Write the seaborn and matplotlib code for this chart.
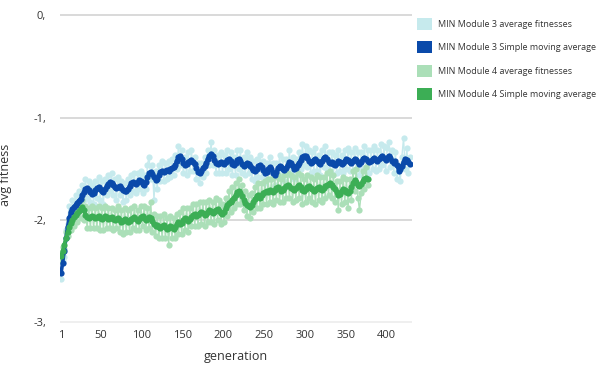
import numpy as np
import pandas as pd
import matplotlib
matplotlib.use("Agg")
import matplotlib.pyplot as plt
import seaborn as sns
from matplotlib.patches import Patch

gen_m3 = list(range(1, 430, 2))
gen_m4 = list(range(1, 378, 2))

# Module 3 - average fitnesses
m3_avg = [
    -2.58, -2.40, -2.36, -2.10, -2.04, -1.86, -1.96, -1.80, -1.92, -1.76,
    -1.90, -1.72, -1.86, -1.66, -1.80, -1.60, -1.78, -1.62, -1.82, -1.66,
    -1.84, -1.62, -1.78, -1.58, -1.80, -1.62, -1.84, -1.60, -1.76, -1.56,
    -1.72, -1.54, -1.76, -1.60, -1.80, -1.58, -1.76, -1.62, -1.82, -1.64,
    -1.80, -1.60, -1.76, -1.56, -1.72, -1.54, -1.74, -1.54, -1.70, -1.52,
    -1.74, -1.56, -1.70, -1.46, -1.38, -1.60, -1.46, -1.80, -1.52, -1.70,
    -1.46, -1.62, -1.42, -1.62, -1.44, -1.60, -1.42, -1.58, -1.40, -1.56,
    -1.36, -1.50, -1.28, -1.46, -1.32, -1.54, -1.38, -1.56, -1.34, -1.52,
    -1.32, -1.52, -1.38, -1.60, -1.44, -1.64, -1.44, -1.58, -1.38, -1.54,
    -1.32, -1.46, -1.24, -1.46, -1.32, -1.54, -1.36, -1.54, -1.34, -1.54,
    -1.36, -1.54, -1.32, -1.50, -1.34, -1.56, -1.38, -1.56, -1.32, -1.50,
    -1.32, -1.54, -1.38, -1.56, -1.34, -1.54, -1.38, -1.60, -1.42, -1.62,
    -1.40, -1.58, -1.36, -1.58, -1.42, -1.64, -1.44, -1.60, -1.38, -1.60,
    -1.44, -1.66, -1.44, -1.58, -1.36, -1.58, -1.40, -1.62, -1.40, -1.56,
    -1.32, -1.54, -1.38, -1.60, -1.40, -1.56, -1.34, -1.50, -1.26, -1.46,
    -1.28, -1.48, -1.32, -1.54, -1.34, -1.52, -1.30, -1.52, -1.36, -1.56,
    -1.32, -1.48, -1.28, -1.50, -1.34, -1.54, -1.34, -1.56, -1.36, -1.54,
    -1.32, -1.52, -1.36, -1.54, -1.32, -1.50, -1.30, -1.52, -1.34, -1.52,
    -1.30, -1.50, -1.34, -1.56, -1.34, -1.50, -1.28, -1.50, -1.32, -1.54,
    -1.32, -1.50, -1.28, -1.52, -1.32, -1.50, -1.26, -1.46, -1.28, -1.52,
    -1.30, -1.24, -1.48, -1.32, -1.54, -1.34, -1.60, -1.46, -1.62, -1.38,
    -1.20, -1.50, -1.30, -1.54, -1.38,
]

# Module 3 - simple moving average
m3_sma = [
    -2.52, -2.42, -2.30, -2.18, -2.07, -1.98, -1.92, -1.89, -1.87, -1.85,
    -1.83, -1.81, -1.79, -1.76, -1.73, -1.70, -1.69, -1.71, -1.73, -1.75,
    -1.74, -1.71, -1.69, -1.68, -1.70, -1.72, -1.73, -1.70, -1.67, -1.65,
    -1.63, -1.64, -1.66, -1.68, -1.69, -1.68, -1.67, -1.69, -1.71, -1.72,
    -1.72, -1.70, -1.67, -1.64, -1.63, -1.64, -1.65, -1.63, -1.61, -1.62,
    -1.65, -1.66, -1.63, -1.58, -1.54, -1.53, -1.55, -1.58, -1.61, -1.60,
    -1.56, -1.53, -1.52, -1.53, -1.52, -1.51, -1.52, -1.50, -1.49, -1.48,
    -1.46, -1.42, -1.38, -1.37, -1.40, -1.44, -1.46, -1.45, -1.43, -1.42,
    -1.41, -1.43, -1.45, -1.49, -1.53, -1.54, -1.52, -1.49, -1.47, -1.44,
    -1.40, -1.37, -1.35, -1.37, -1.41, -1.44, -1.45, -1.44, -1.43, -1.44,
    -1.45, -1.43, -1.41, -1.40, -1.42, -1.45, -1.46, -1.44, -1.41, -1.40,
    -1.42, -1.45, -1.47, -1.46, -1.44, -1.45, -1.47, -1.49, -1.51, -1.52,
    -1.50, -1.47, -1.46, -1.48, -1.51, -1.54, -1.53, -1.50, -1.48, -1.50,
    -1.54, -1.56, -1.53, -1.49, -1.47, -1.48, -1.50, -1.51, -1.49, -1.46,
    -1.43, -1.44, -1.47, -1.50, -1.49, -1.46, -1.44, -1.41, -1.38, -1.37,
    -1.37, -1.39, -1.42, -1.44, -1.43, -1.41, -1.40, -1.42, -1.44, -1.45,
    -1.42, -1.39, -1.38, -1.40, -1.43, -1.44, -1.43, -1.45, -1.46, -1.44,
    -1.42, -1.43, -1.45, -1.44, -1.42, -1.40, -1.41, -1.43, -1.44, -1.42,
    -1.40, -1.41, -1.43, -1.45, -1.43, -1.40, -1.39, -1.40, -1.42, -1.43,
    -1.42, -1.40, -1.39, -1.41, -1.42, -1.40, -1.38, -1.37, -1.39, -1.41,
    -1.39, -1.37, -1.39, -1.42, -1.44, -1.42, -1.46, -1.52, -1.50, -1.47,
    -1.43, -1.40, -1.41, -1.43, -1.45,
]

# Module 4 - average fitnesses
m4_avg = [
    -2.40, -2.26, -2.28, -2.12, -2.16, -2.00, -2.10, -1.92, -2.06, -1.86,
    -2.02, -1.82, -1.98, -1.80, -2.00, -1.86, -2.08, -1.88, -2.08, -1.86,
    -2.08, -1.88, -2.08, -1.86, -2.10, -1.88, -2.10, -1.86, -2.08, -1.88,
    -2.08, -1.88, -2.10, -1.90, -2.08, -1.86, -2.12, -1.90, -2.14, -1.88,
    -2.12, -1.90, -2.12, -1.88, -2.08, -1.86, -2.10, -1.90, -2.10, -1.86,
    -2.06, -1.86, -2.10, -1.88, -2.08, -1.82, -2.12, -1.94, -2.16, -1.96,
    -2.18, -1.96, -2.18, -1.94, -2.18, -1.98, -2.24, -1.96, -2.18, -1.98,
    -2.18, -1.94, -2.14, -1.92, -2.14, -1.88, -2.10, -1.88, -2.12, -1.88,
    -2.06, -1.84, -2.06, -1.84, -2.06, -1.82, -2.04, -1.82, -2.06, -1.82,
    -2.02, -1.80, -2.02, -1.82, -2.04, -1.78, -2.00, -1.80, -2.04, -1.84,
    -2.02, -1.78, -1.96, -1.72, -1.92, -1.68, -1.88, -1.64, -1.84, -1.60,
    -1.84, -1.66, -1.90, -1.72, -1.96, -1.76, -1.98, -1.74, -1.92, -1.68,
    -1.88, -1.64, -1.88, -1.64, -1.84, -1.62, -1.84, -1.60, -1.82, -1.60,
    -1.84, -1.58, -1.80, -1.56, -1.82, -1.60, -1.82, -1.56, -1.78, -1.54,
    -1.78, -1.56, -1.82, -1.58, -1.80, -1.54, -1.78, -1.56, -1.84, -1.60,
    -1.82, -1.56, -1.78, -1.58, -1.82, -1.60, -1.84, -1.56, -1.80, -1.58,
    -1.82, -1.58, -1.78, -1.54, -1.76, -1.52, -1.78, -1.56, -1.82, -1.62,
    -1.90, -1.62, -1.84, -1.58, -1.82, -1.60, -1.88, -1.60, -1.80, -1.52,
    -1.72, -1.50, -1.78, -1.90, -1.74, -1.52, -1.70, -1.48, -1.66,
]

# Module 4 - simple moving average
m4_sma = [
    -2.35, -2.30, -2.24, -2.18, -2.12, -2.07, -2.03, -2.00, -1.97, -1.95,
    -1.93, -1.91, -1.89, -1.87, -1.90, -1.95, -1.97, -1.98, -1.97, -1.96,
    -1.97, -1.98, -1.97, -1.96, -1.98, -1.99, -1.98, -1.96, -1.97, -1.99,
    -1.98, -1.97, -1.99, -2.00, -1.99, -1.98, -2.00, -2.02, -2.01, -1.99,
    -2.00, -2.02, -2.01, -1.99, -1.98, -1.97, -1.99, -2.01, -1.99, -1.97,
    -1.96, -1.98, -2.00, -1.99, -1.97, -1.98, -2.01, -2.04, -2.06, -2.05,
    -2.07, -2.08, -2.06, -2.05, -2.07, -2.09, -2.08, -2.06, -2.07, -2.09,
    -2.07, -2.04, -2.02, -2.04, -2.03, -2.00, -1.98, -1.99, -2.01, -1.99,
    -1.97, -1.95, -1.94, -1.96, -1.95, -1.93, -1.92, -1.93, -1.95, -1.94,
    -1.92, -1.90, -1.91, -1.93, -1.92, -1.90, -1.89, -1.91, -1.93, -1.94,
    -1.92, -1.88, -1.85, -1.83, -1.82, -1.80, -1.78, -1.76, -1.73, -1.72,
    -1.74, -1.77, -1.80, -1.83, -1.85, -1.86, -1.87, -1.85, -1.82, -1.79,
    -1.77, -1.76, -1.78, -1.76, -1.74, -1.73, -1.72, -1.73, -1.71, -1.72,
    -1.73, -1.71, -1.69, -1.68, -1.70, -1.72, -1.71, -1.69, -1.67, -1.66,
    -1.67, -1.69, -1.70, -1.71, -1.69, -1.67, -1.66, -1.68, -1.71, -1.72,
    -1.70, -1.68, -1.67, -1.69, -1.70, -1.72, -1.71, -1.69, -1.68, -1.70,
    -1.71, -1.69, -1.67, -1.66, -1.65, -1.64, -1.66, -1.68, -1.70, -1.73,
    -1.76, -1.75, -1.72, -1.70, -1.71, -1.73, -1.74, -1.72, -1.68, -1.64,
    -1.61, -1.63, -1.66, -1.67, -1.65, -1.62, -1.60, -1.59, -1.60,
]

labels = [
    "MIN Module 3 average fitnesses",
    "MIN Module 3 Simple moving average",
    "MIN Module 4 average fitnesses",
    "MIN Module 4 Simple moving average",
]
colors = ["#c6eaed", "#0a4aaa", "#abdfb8", "#3cae55"]

x_ticks = [1, 50, 100, 150, 200, 250, 300, 350, 400]
y_ticks = [0, -1, -2, -3]
y_tick_labels = ["0,", "-1,", "-2,", "-3,"]

sns.set_style("white")
plt.rcParams["font.family"] = ["Open Sans", "DejaVu Sans"]

fig = plt.figure(figsize=(5.96, 3.70), dpi=100)
ax = fig.add_axes([0.1007, 0.1260, 0.5906, 0.8352])

# light raw series first, smoothed series on top
sns.lineplot(x=gen_m3, y=m3_avg, ax=ax, color=colors[0], marker="o",
             markersize=4.5, markeredgewidth=0, linewidth=1.0, zorder=2)
sns.lineplot(x=gen_m4, y=m4_avg, ax=ax, color=colors[2], marker="o",
             markersize=4.5, markeredgewidth=0, linewidth=1.0, zorder=3)
sns.lineplot(x=gen_m3, y=m3_sma, ax=ax, color=colors[1], marker="o",
             markersize=4.5, markeredgewidth=0, linewidth=2.6, zorder=4)
sns.lineplot(x=gen_m4, y=m4_sma, ax=ax, color=colors[3], marker="o",
             markersize=4.5, markeredgewidth=0, linewidth=2.6, zorder=5)

ax.set_xlim(-0.2, 431.4)
ax.set_ylim(-3.01, 0.01)

# horizontal gridlines
for yv in y_ticks:
    ax.axhline(yv, color="#ebebeb" if yv == -3 else "#cfcfcf",
               linewidth=1.1, zorder=1)

for s in ax.spines.values():
    s.set_visible(False)

ax.set_xticks(x_ticks)
ax.set_xticklabels([str(t) for t in x_ticks])
ax.set_yticks(y_ticks)
ax.set_yticklabels(y_tick_labels)
ax.tick_params(axis="both", length=0, labelsize=8, colors="#333333")
ax.tick_params(axis="y", pad=10)
ax.tick_params(axis="x", pad=5)

ax.set_xlabel("generation", fontsize=9, color="#333333", labelpad=6)
ax.set_ylabel("avg fitness", fontsize=9, color="#333333")
ax.yaxis.set_label_coords(-0.135, 0.48)

handles = [Patch(facecolor=c, edgecolor="none") for c in colors]
fig.legend(handles, labels, loc="upper left", bbox_to_anchor=(0.699, 0.952),
           frameon=False, fontsize=6.5, handlelength=1.7, handleheight=1.7,
           handletextpad=0.7, labelspacing=1.25, borderpad=0, borderaxespad=0,
           labelcolor="#333333")

fig.savefig("out.png", dpi=100)
